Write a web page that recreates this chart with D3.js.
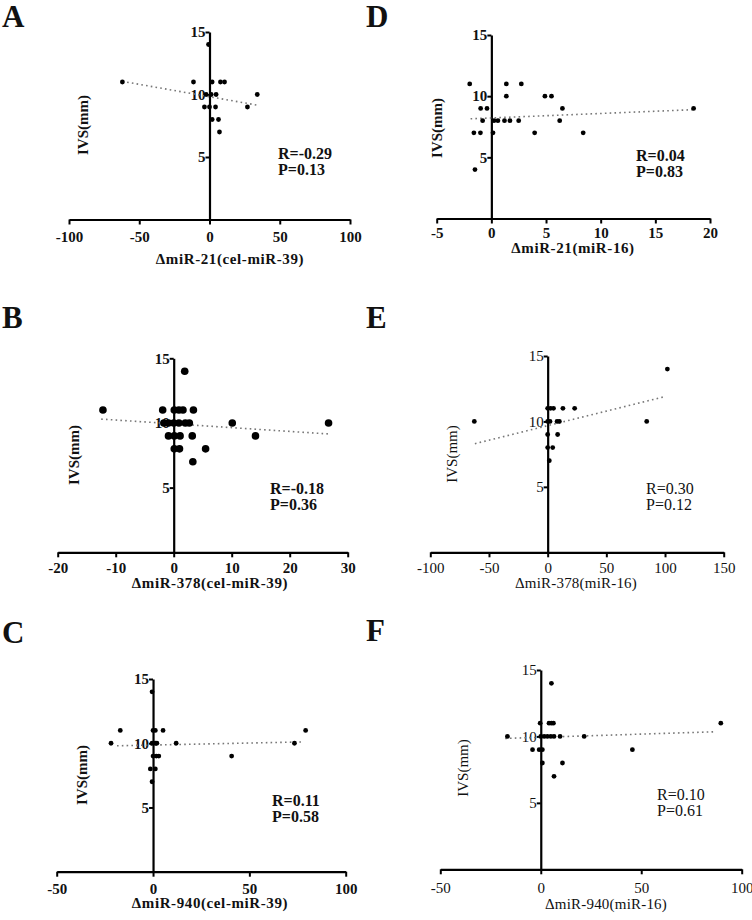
<!DOCTYPE html>
<html>
<head>
<meta charset="utf-8">
<script src="https://cdn.jsdelivr.net/npm/d3@7"></script>
<style>
  html, body { margin: 0; padding: 0; background: #fff; }
  svg { display: block; }
  svg text { font-family: "Liberation Serif", "Times New Roman", "DejaVu Serif", Times, serif !important; fill: #111; }
</style>
</head>
<body>
<svg id="chart" width="752" height="920"></svg>
<script>
// ---------- DATA ----------
const panelLetters = ["A", "B", "C", "D", "E", "F"];
const xTitles = ["ΔmiR-21(cel-miR-39)", "ΔmiR-378(cel-miR-39)", "ΔmiR-940(cel-miR-39)",
                 "ΔmiR-21(miR-16)", "ΔmiR-378(miR-16)", "ΔmiR-940(miR-16)"];
const yTitle = "IVS(mm)";
const xTickValues = [
  [-100, -50, 0, 50, 100],
  [-20, -10, 0, 10, 20, 30],
  [-50, 0, 50, 100],
  [-5, 0, 5, 10, 15, 20],
  [-100, -50, 0, 50, 100, 150],
  [-50, 0, 50, 100]
];
const yTickValues = [5, 10, 15];
const rLabels = ["R=-0.29", "R=-0.18", "R=0.11", "R=0.04", "R=0.30", "R=0.10"];
const pLabels = ["P=0.13", "P=0.36", "P=0.58", "P=0.83", "P=0.12", "P=0.61"];

// points per panel
const aX = [-0.7, -62, -11.4, 1.9, 7.8, 10.7, -2.4, 1.2, 4.7, 34, -3.6, 0, 4.3, 27, 1.9, 6.4, 7.1];
const aY = [14, 11, 11, 11, 11, 11, 10, 10, 10, 10, 9, 9, 9, 9, 8, 8, 7];

const bX = [1.9, -12.2, -1.9, 0.1, 0.9, 1.6, 3.4, -1.7, -0.9, 0, 0.9, 2, 2.7, 10.1, 26.7, -0.9, 0.1, 1.1, 3.2, 14.1, 0.1, 1.0, 5.5, 3.3];
const bY = [14, 11, 11, 11, 11, 11, 11, 10, 10, 10, 10, 10, 10, 10, 10, 9, 9, 9, 9, 9, 8, 8, 8, 7];

const cX = [-0.5, -17, 0, 1.2, 5.2, 79.2, -21.8, -0.5, 1.2, 2, 12, 73.4, 0, 1.7, 3, 40.8, -1.4, 1.2, -0.5];
const cY = [14, 11, 11, 11, 11, 11, 10, 10, 10, 10, 10, 10, 9, 9, 9, 9, 8, 8, 7];

const dX = [-1.98, 1.37, 2.74, 1.37, 4.9, 5.5, -0.98, -0.4, 6.5, 18.5, -0.8, 0.24, 0.6, 1.2, 1.7, 2.5, 6.25, -1.6, -1.0, 0.15, 3.96, 8.4, -1.5];
const dY = [11, 11, 11, 10, 10, 10, 9, 9, 9, 9, 8, 8, 8, 8, 8, 8, 8, 7, 7, 7, 7, 7, 4];

const eX = [102, 0, 2.5, 5, 13, 23, -62.5, 0, 2, 8, 10, 84.4, 0, 8.5, 0, 4.3, 1.4];
const eY = [14, 11, 11, 11, 11, 11, 10, 10, 10, 10, 10, 10, 9, 9, 8, 8, 7];

const fX = [5.3, -0.3, 4.1, 5.3, 6.3, 89.6, -16.6, 0, 1.7, 3.3, 5, 6.6, 9.6, 21.6, -4.1, -0.8, 0.8, 45.6, 0.8, 10.8, 6.6];
const fY = [14, 11, 11, 11, 11, 11, 10, 10, 10, 10, 10, 10, 10, 10, 9, 9, 9, 9, 8, 8, 7];

// trend line endpoints [x0, x1] and [y0, y1]
const trendX = [[-62, 34], [-12.5, 26.7], [-18.7, 77.3], [-1.9, 18.6], [-62, 100], [-17.7, 86.7]];
const trendY = [[11.05, 9.15], [10.3, 9.15], [9.8, 10.1], [8.15, 8.9], [8.3, 11.9], [9.85, 10.35]];

const pointsX = [aX, bX, cX, dX, eX, fX];
const pointsY = [aY, bY, cY, dY, eY, fY];

// ---------- LAYOUT ----------
const frames = [
  { x0: 69,    x1: 350,   y0: 219.5, y15: 32,    tk: 22.5, lx: 2,   ly: 27,  ylx: 85,  yly: 125, tx: 230, ty: 264, rx: 278, ry: 159, bold: true,  r: 2.4 },
  { x0: 57.7,  x1: 347.7, y0: 552.3, y15: 358.3, tk: 21,   lx: 2,   ly: 328, ylx: 76,  yly: 455, tx: 210, ty: 588, rx: 270, ry: 494, bold: true,  r: 3.8 },
  { x0: 56.7,  x1: 345.7, y0: 871.7, y15: 679,   tk: 22,   lx: 2,   ly: 643, ylx: 84,  yly: 775, tx: 210, ty: 908, rx: 272, ry: 806, bold: true,  r: 2.4 },
  { x0: 436.7, x1: 710,   y0: 218.5, y15: 35,    tk: 19.5, lx: 366, ly: 27,  ylx: 439, yly: 128, tx: 573, ty: 253, rx: 636, ry: 161, bold: true,  r: 2.4 },
  { x0: 430.3, x1: 723.7, y0: 552.3, y15: 356,   tk: 21,   lx: 366, ly: 328, ylx: 454, yly: 454, tx: 576, ty: 588, rx: 646, ry: 494, bold: false, r: 2.4 },
  { x0: 440.3, x1: 741.7, y0: 869.3, y15: 670,   tk: 24,   lx: 366, ly: 641, ylx: 465, yly: 768, tx: 606, ty: 909, rx: 657, ry: 800, bold: false, r: 2.4 }
];

const FONT = '"Liberation Serif", "Times New Roman", "DejaVu Serif", Times, serif';
const fmt = d => String(d);   // hyphen-minus, as in the figure
const svg = d3.select("#chart");

panelLetters.forEach((letter, i) => {
  const f = frames[i];
  const ticks = xTickValues[i];
  const weight = f.bold ? "bold" : "normal";
  const x = d3.scaleLinear().domain([ticks[0], ticks[ticks.length - 1]]).range([f.x0, f.x1]);
  const y = d3.scaleLinear().domain([0, 15]).range([f.y0, f.y15]);
  const g = svg.append("g");

  g.append("text").attr("x", f.lx).attr("y", f.ly)
    .attr("font-size", 31).attr("font-weight", "bold").style("font-family", FONT).text(letter);

  // x axis
  const xAxis = d3.axisBottom(x).tickValues(ticks).tickSize(5).tickSizeOuter(0).tickFormat(fmt);
  const gx = g.append("g").attr("transform", `translate(0,${y(0)})`).call(xAxis);
  gx.attr("font-family", FONT);
  gx.select(".domain").attr("stroke", "#000").attr("stroke-width", 2.2);
  gx.selectAll(".tick line").attr("stroke", "#000").attr("stroke-width", 2);
  gx.selectAll(".tick text").attr("font-size", 15).attr("font-weight", weight)
    .attr("fill", "#111").attr("y", f.tk).attr("dy", 0)
    .style("font-family", FONT);

  // y axis at x = 0
  const yAxis = d3.axisLeft(y).tickValues(yTickValues).tickSize(4).tickSizeOuter(0).tickFormat(fmt);
  const gy = g.append("g").attr("transform", `translate(${x(0)},0)`).call(yAxis);
  gy.attr("font-family", FONT);
  gy.select(".domain").attr("stroke", "#000").attr("stroke-width", 2.2);
  gy.selectAll(".tick line").attr("stroke", "#000").attr("stroke-width", 2);
  gy.selectAll(".tick text").attr("font-size", 15).attr("font-weight", weight)
    .attr("fill", "#111").attr("x", -4)
    .style("font-family", FONT);

  // trend line
  g.append("line")
    .attr("x1", x(trendX[i][0])).attr("y1", y(trendY[i][0]))
    .attr("x2", x(trendX[i][1])).attr("y2", y(trendY[i][1]))
    .attr("stroke", "#777").attr("stroke-width", 1.6).attr("stroke-dasharray", "1.6,3.2");

  // points
  const pts = pointsX[i].map((v, k) => ({ x: v, y: pointsY[i][k] }));
  g.selectAll("circle.pt").data(pts).enter().append("circle")
    .attr("class", "pt")
    .attr("cx", d => x(d.x)).attr("cy", d => y(d.y))
    .attr("r", f.r).attr("fill", "#000");

  // y title
  g.append("text")
    .attr("transform", `translate(${f.ylx},${f.yly}) rotate(-90)`)
    .attr("text-anchor", "middle").attr("dominant-baseline", "middle")
    .attr("font-size", 15).attr("font-weight", weight).style("font-family", FONT).text(yTitle);

  // x title
  g.append("text").attr("x", f.tx).attr("y", f.ty)
    .attr("text-anchor", "middle").attr("font-size", 15).attr("font-weight", weight)
    .attr("letter-spacing", f.bold ? 0.6 : 0.2).style("font-family", FONT)
    .text(xTitles[i]);

  // R / P
  g.append("text").attr("x", f.rx).attr("y", f.ry)
    .attr("font-size", 16).attr("font-weight", weight).style("font-family", FONT).text(rLabels[i]);
  g.append("text").attr("x", f.rx).attr("y", f.ry + 16)
    .attr("font-size", 16).attr("font-weight", weight).style("font-family", FONT).text(pLabels[i]);
});
</script>
</body>
</html>
